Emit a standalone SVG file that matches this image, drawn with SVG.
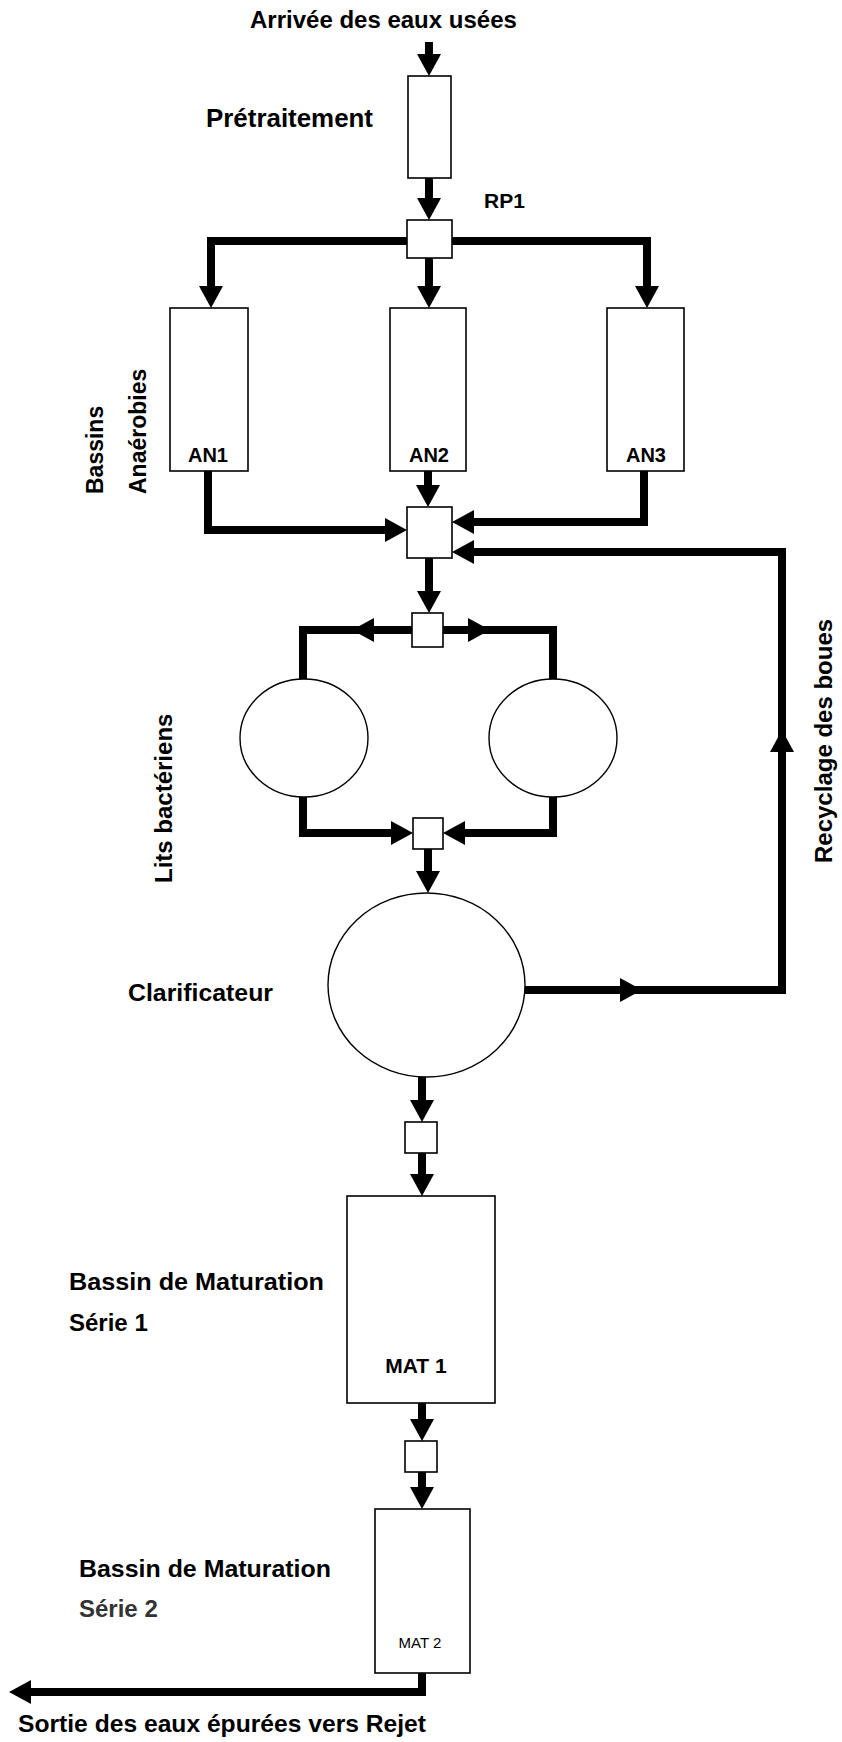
<svg xmlns="http://www.w3.org/2000/svg" width="842" height="1742" viewBox="0 0 842 1742">
<style>
.box{fill:#fff;stroke:#000;stroke-width:1.6}
.ell{fill:#fff;stroke:#000;stroke-width:1.4}
.pipe{fill:none;stroke:#000;stroke-width:8;stroke-linejoin:miter;stroke-linecap:butt}
.arr{marker-end:url(#ah)}
.lbl{font-family:"Liberation Sans",Arial,sans-serif;font-weight:bold;font-size:24px;fill:#000}
.tag{font-family:"Liberation Sans",Arial,sans-serif;font-weight:bold;font-size:20px;fill:#000;text-anchor:middle}
.small{font-family:"Liberation Sans",Arial,sans-serif;font-size:15px;fill:#000;text-anchor:middle}
</style>
<defs>
<marker id="ah" markerUnits="userSpaceOnUse" viewBox="0 0 22 24" markerWidth="22" markerHeight="24" refX="0" refY="12" orient="auto">
<path d="M0,0 L22,12 L0,24 z" fill="#000"/>
</marker>
</defs>
<rect width="842" height="1742" fill="#fff"/>

<g id="connectors">
<path class="pipe arr" d="M429,42 V54"/>
<path class="pipe arr" d="M429,178 V198"/>
<path class="pipe arr" d="M407,241 H211 V286"/>
<path class="pipe arr" d="M429,258 V286"/>
<path class="pipe arr" d="M452,241 H647 V286"/>
<path class="pipe arr" d="M208,471 V530 H385"/>
<path class="pipe arr" d="M428,471 V485"/>
<path class="pipe arr" d="M644,471 V522 H474"/>
<path class="pipe arr" d="M429,558 V591"/>
<path class="pipe arr" d="M412,630 H374"/>
<path class="pipe" d="M360,630 H303 V679"/>
<path class="pipe arr" d="M443,630 H468"/>
<path class="pipe" d="M482,630 H553 V679"/>
<path class="pipe arr" d="M303,797 V833 H391"/>
<path class="pipe arr" d="M553,797 V833 H465"/>
<path class="pipe arr" d="M428,849 V871"/>
<path class="pipe arr" d="M525,990 H620"/>
<path class="pipe arr" d="M630,990 H782 V752"/>
<path class="pipe arr" d="M782,740 V552 H474"/>
<path class="pipe arr" d="M422,1077 V1100"/>
<path class="pipe arr" d="M422,1153 V1174"/>
<path class="pipe arr" d="M422,1403 V1419"/>
<path class="pipe arr" d="M422,1472 V1487"/>
<path class="pipe arr" d="M422,1673 V1692 H31"/>
</g>

<g id="arrivee"><text class="lbl" x="250" y="28">Arrivée des eaux usées</text></g>
<g id="pretraitement">
<rect class="box" x="408" y="76" width="43" height="102"/>
<text class="lbl" x="206" y="127" style="font-size:25px" textLength="167" lengthAdjust="spacingAndGlyphs">Prétraitement</text>
</g>
<g id="rp1">
<rect class="box" x="407" y="220" width="45" height="38"/>
<text class="lbl" x="484" y="208" style="font-size:21px">RP1</text>
</g>
<g id="an1">
<rect class="box" x="170" y="308" width="78" height="163"/>
<text class="tag" x="208" y="462">AN1</text>
</g>
<g id="an2">
<rect class="box" x="390" y="308" width="76" height="163"/>
<text class="tag" x="429" y="462">AN2</text>
</g>
<g id="an3">
<rect class="box" x="607" y="308" width="77" height="163"/>
<text class="tag" x="646" y="462">AN3</text>
</g>
<g id="label-anaerobies">
<text class="lbl" transform="translate(103,494) rotate(-90)" style="font-size:23px">Bassins</text>
<text class="lbl" transform="translate(146,494) rotate(-90)" style="font-size:23px">Anaérobies</text>
</g>
<g id="mix1"><rect class="box" x="407" y="507" width="45" height="51"/></g>
<g id="split2"><rect class="box" x="412" y="613" width="31" height="34"/></g>
<g id="lit1"><ellipse class="ell" cx="304" cy="738" rx="64" ry="59"/></g>
<g id="lit2"><ellipse class="ell" cx="553" cy="738" rx="64" ry="59"/></g>
<g id="label-lits"><text class="lbl" transform="translate(172,883) rotate(-90)">Lits bactériens</text></g>
<g id="mix3"><rect class="box" x="413" y="818" width="30" height="31"/></g>
<g id="clarificateur">
<ellipse class="ell" cx="426.5" cy="985" rx="98.5" ry="92"/>
<text class="lbl" x="128" y="1001" textLength="145" lengthAdjust="spacingAndGlyphs">Clarificateur</text>
</g>
<g id="label-recyclage"><text class="lbl" transform="translate(832,863) rotate(-90)">Recyclage des boues</text></g>
<g id="box4"><rect class="box" x="405" y="1122" width="32" height="31"/></g>
<g id="mat1">
<rect class="box" x="347" y="1196" width="148" height="207"/>
<text class="tag" x="416" y="1373" style="font-size:21px">MAT 1</text>
<text class="lbl" x="69" y="1290" textLength="255" lengthAdjust="spacingAndGlyphs">Bassin de Maturation</text>
<text class="lbl" x="69" y="1331">Série 1</text>
</g>
<g id="box5"><rect class="box" x="405" y="1441" width="32" height="31"/></g>
<g id="mat2">
<rect class="box" x="375" y="1509" width="95" height="164"/>
<text class="small" x="420" y="1648">MAT 2</text>
<text class="lbl" x="79" y="1577" textLength="252" lengthAdjust="spacingAndGlyphs">Bassin de Maturation</text>
<text class="lbl" x="79" y="1617" style="fill:#333">Série 2</text>
</g>
<g id="sortie"><text class="lbl" x="18" y="1732" textLength="408" lengthAdjust="spacingAndGlyphs">Sortie des eaux épurées vers Rejet</text></g>
</svg>
